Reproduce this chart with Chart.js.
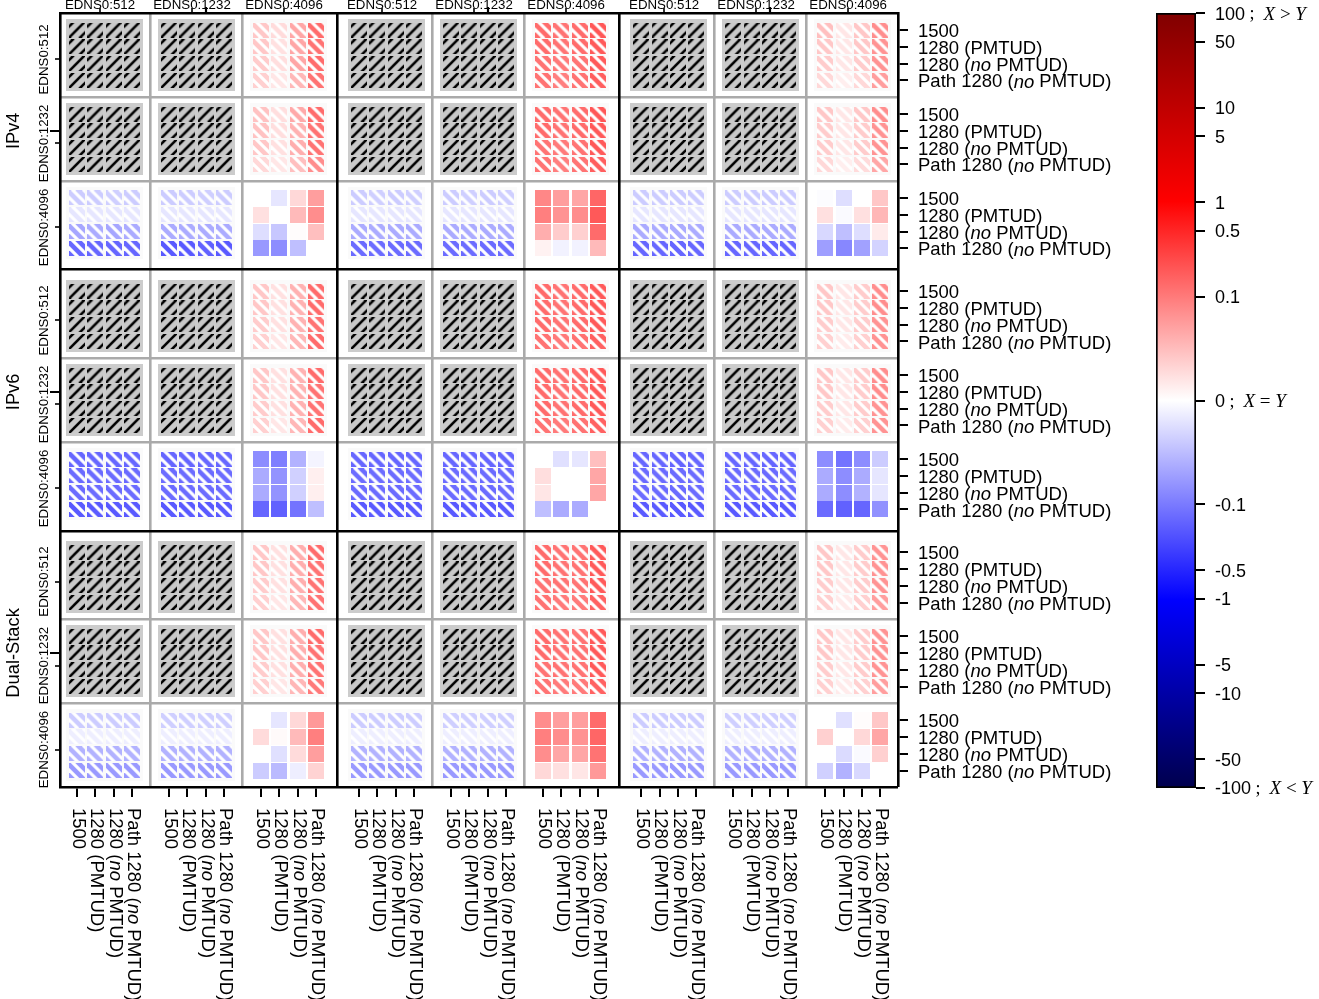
<!DOCTYPE html>
<html>
<head>
<meta charset="utf-8">
<script src="https://cdn.jsdelivr.net/npm/chart.js@4"></script>
<style>
  html, body { margin: 0; background: #fff; }
  canvas { position: absolute; top: 0; }
  #matrix { left: 0; }
  #cbar { left: 1100px; }
</style>
</head>
<body>
<canvas id="matrix" width="1319" height="999"></canvas>
<canvas id="cbar" width="219" height="999"></canvas>
<script>
// ================ Data ======================
const _ = null; // no value, drawn as the grey/black hatched cell

const mtuLabels = ['1500', '1280 (PMTUD)', '1280 (*no* PMTUD)', 'Path 1280 (*no* PMTUD)'];
const ednsLabels = ['EDNS0:512', 'EDNS0:1232', 'EDNS0:4096'];
const familyLabels = ['IPv4', 'IPv6', 'Dual-Stack'];
const cbarTicks = [100, 50, 10, 5, 1, 0.5, 0.1, 0, -0.1, -0.5, -1, -5, -10, -50, -100];
const cbarMath = { '100': ['X', ' > ', 'Y'], '0': ['X', ' = ', 'Y'], '-100': ['X', ' < ', 'Y'] };

const ipv4_left = [
  [_,_,_,_,_,_,_,_, .042,.027,.067,.133],
  [_,_,_,_,_,_,_,_, .042,.023,.067,.115],
  [_,_,_,_,_,_,_,_, .038,.025,.067,.133],
  [_,_,_,_,_,_,_,_, .035,.019,.054,.115],
  [_,_,_,_,_,_,_,_, .046,.025,.065,.133],
  [_,_,_,_,_,_,_,_, .046,.025,.058,.115],
  [_,_,_,_,_,_,_,_, .042,.023,.061,.115],
  [_,_,_,_,_,_,_,_, .029,.019,.048,.086],
  [-.038,-.038,-.036,-.038, -.038,-.038,-.036,-.038, 0,-.019,.029,.073],
  [-.019,-.019,-.019,-.019, -.019,-.019,-.019,-.019, .023,0,.052,.086],
  [-.067,-.063,-.067,-.063, -.063,-.063,-.063,-.063, -.025,-.042,.002,.048],
  [-.147,-.147,-.147,-.147, -.186,-.186,-.162,-.186, -.077,-.086,-.048,0]
];
const ipv4_mid = [
  [_,_,_,_,_,_,_,_, .133,.115,.133,.2],
  [_,_,_,_,_,_,_,_, .133,.115,.133,.186],
  [_,_,_,_,_,_,_,_, .115,.1,.115,.186],
  [_,_,_,_,_,_,_,_, .115,.096,.115,.17],
  [_,_,_,_,_,_,_,_, .133,.115,.133,.2],
  [_,_,_,_,_,_,_,_, .133,.115,.133,.186],
  [_,_,_,_,_,_,_,_, .115,.1,.115,.186],
  [_,_,_,_,_,_,_,_, .115,.096,.115,.17],
  [-.038,-.036,-.038,-.036, -.038,-.036,-.038,-.036, .09,.073,.067,.147],
  [-.019,-.019,-.019,-.019, -.019,-.019,-.019,-.019, .096,.081,.086,.186],
  [-.063,-.063,-.063,-.063, -.063,-.063,-.063,-.063, .061,.038,.035,.133],
  [-.133,-.133,-.133,-.133, -.133,-.133,-.133,-.133, .01,-.01,-.01,.052]
];
const ipv4_right = [
  [_,_,_,_,_,_,_,_, .048,.019,.042,.086],
  [_,_,_,_,_,_,_,_, .042,.019,.042,.081],
  [_,_,_,_,_,_,_,_, .038,.019,.038,.081],
  [_,_,_,_,_,_,_,_, .029,.013,.029,.073],
  [_,_,_,_,_,_,_,_, .042,.019,.042,.086],
  [_,_,_,_,_,_,_,_, .038,.019,.038,.081],
  [_,_,_,_,_,_,_,_, .038,.019,.038,.081],
  [_,_,_,_,_,_,_,_, .029,.013,.027,.067],
  [-.038,-.038,-.038,-.038, -.038,-.038,-.038,-.038, -.002,-.025,0,.042],
  [-.019,-.019,-.019,-.019, -.019,-.019,-.019,-.019, .023,-.004,.023,.054],
  [-.063,-.063,-.063,-.063, -.063,-.063,-.063,-.063, -.029,-.048,-.025,.015],
  [-.147,-.147,-.147,-.147, -.147,-.147,-.147,-.147, -.073,-.09,-.071,-.033]
];
const ipv6_left = [
  [_,_,_,_,_,_,_,_, .042,.023,.058,.133],
  [_,_,_,_,_,_,_,_, .042,.023,.058,.133],
  [_,_,_,_,_,_,_,_, .038,.023,.058,.115],
  [_,_,_,_,_,_,_,_, .035,.019,.054,.133],
  [_,_,_,_,_,_,_,_, .042,.023,.058,.133],
  [_,_,_,_,_,_,_,_, .042,.023,.058,.115],
  [_,_,_,_,_,_,_,_, .038,.023,.058,.115],
  [_,_,_,_,_,_,_,_, .035,.019,.054,.133],
  [-.147,-.147,-.147,-.147, -.147,-.147,-.147,-.147, -.086,-.096,-.058,-.008],
  [-.133,-.133,-.133,-.133, -.133,-.133,-.133,-.133, -.063,-.081,-.035,.012],
  [-.133,-.133,-.133,-.133, -.133,-.133,-.133,-.133, -.063,-.081,-.035,.012],
  [-.186,-.186,-.186,-.186, -.186,-.186,-.186,-.186, -.147,-.162,-.115,-.048]
];
const ipv6_mid = [
  [_,_,_,_,_,_,_,_, .133,.115,.133,.186],
  [_,_,_,_,_,_,_,_, .133,.115,.133,.186],
  [_,_,_,_,_,_,_,_, .133,.115,.133,.186],
  [_,_,_,_,_,_,_,_, .115,.1,.115,.162],
  [_,_,_,_,_,_,_,_, .133,.115,.133,.186],
  [_,_,_,_,_,_,_,_, .133,.115,.133,.186],
  [_,_,_,_,_,_,_,_, .133,.115,.133,.186],
  [_,_,_,_,_,_,_,_, .115,.1,.115,.162],
  [-.147,-.147,-.147,-.147, -.147,-.147,-.147,-.147, 0,-.023,-.019,.048],
  [-.133,-.133,-.133,-.133, -.133,-.133,-.133,-.133, .025,0,0,.067],
  [-.133,-.133,-.133,-.133, -.133,-.133,-.133,-.133, .019,0,0,.067],
  [-.186,-.186,-.186,-.186, -.186,-.186,-.186,-.186, -.048,-.063,-.063,0]
];
const ipv6_right = [
  [_,_,_,_,_,_,_,_, .042,.019,.038,.086],
  [_,_,_,_,_,_,_,_, .042,.019,.038,.086],
  [_,_,_,_,_,_,_,_, .038,.019,.038,.081],
  [_,_,_,_,_,_,_,_, .035,.015,.035,.081],
  [_,_,_,_,_,_,_,_, .042,.019,.038,.086],
  [_,_,_,_,_,_,_,_, .042,.019,.038,.086],
  [_,_,_,_,_,_,_,_, .038,.019,.038,.081],
  [_,_,_,_,_,_,_,_, .035,.015,.035,.081],
  [-.147,-.147,-.147,-.147, -.147,-.147,-.147,-.147, -.086,-.115,-.086,-.038],
  [-.133,-.133,-.133,-.133, -.133,-.133,-.133,-.133, -.063,-.086,-.063,-.019],
  [-.133,-.133,-.133,-.133, -.133,-.133,-.133,-.133, -.063,-.086,-.058,-.019],
  [-.186,-.186,-.186,-.186, -.186,-.186,-.186,-.186, -.133,-.162,-.147,-.083]
];
const dual_left = [
  [_,_,_,_,_,_,_,_, .042,.023,.061,.133],
  [_,_,_,_,_,_,_,_, .042,.023,.061,.115],
  [_,_,_,_,_,_,_,_, .038,.023,.061,.115],
  [_,_,_,_,_,_,_,_, .035,.019,.054,.115],
  [_,_,_,_,_,_,_,_, .042,.023,.061,.133],
  [_,_,_,_,_,_,_,_, .042,.023,.061,.115],
  [_,_,_,_,_,_,_,_, .038,.023,.061,.115],
  [_,_,_,_,_,_,_,_, .035,.019,.054,.1],
  [-.038,-.038,-.038,-.038, -.036,-.036,-.036,-.036, 0,-.019,.029,.077],
  [-.013,-.013,-.013,-.013, -.013,-.013,-.013,-.013, .027,.004,.052,.096],
  [-.058,-.058,-.058,-.058, -.058,-.058,-.058,-.058, 0,-.023,.027,.073],
  [-.077,-.077,-.077,-.077, -.077,-.077,-.077,-.077, -.038,-.052,-.013,.033]
];
const dual_mid = [
  [_,_,_,_,_,_,_,_, .133,.115,.115,.186],
  [_,_,_,_,_,_,_,_, .133,.115,.115,.186],
  [_,_,_,_,_,_,_,_, .115,.115,.115,.186],
  [_,_,_,_,_,_,_,_, .115,.1,.1,.162],
  [_,_,_,_,_,_,_,_, .133,.115,.115,.186],
  [_,_,_,_,_,_,_,_, .133,.115,.115,.186],
  [_,_,_,_,_,_,_,_, .115,.115,.115,.186],
  [_,_,_,_,_,_,_,_, .115,.1,.1,.162],
  [-.038,-.038,-.038,-.038, -.036,-.036,-.036,-.036, .086,.073,.073,.133],
  [-.013,-.013,-.013,-.013, -.013,-.013,-.013,-.013, .096,.086,.081,.147],
  [-.058,-.058,-.058,-.058, -.058,-.058,-.058,-.058, .086,.067,.067,.115],
  [-.077,-.077,-.077,-.077, -.077,-.077,-.077,-.077, .029,.023,.019,.077]
];
const dual_right = [
  [_,_,_,_,_,_,_,_, .042,.019,.038,.081],
  [_,_,_,_,_,_,_,_, .042,.019,.038,.081],
  [_,_,_,_,_,_,_,_, .038,.019,.038,.081],
  [_,_,_,_,_,_,_,_, .035,.015,.035,.073],
  [_,_,_,_,_,_,_,_, .042,.019,.038,.081],
  [_,_,_,_,_,_,_,_, .042,.019,.038,.081],
  [_,_,_,_,_,_,_,_, .038,.019,.038,.081],
  [_,_,_,_,_,_,_,_, .035,.015,.035,.073],
  [-.038,-.038,-.038,-.038, -.036,-.036,-.036,-.036, 0,-.023,.002,.042],
  [-.013,-.013,-.013,-.013, -.013,-.013,-.013,-.013, .035,0,.029,.067],
  [-.058,-.058,-.058,-.058, -.058,-.058,-.058,-.058, 0,-.027,-.004,.035],
  [-.077,-.077,-.077,-.077, -.077,-.077,-.077,-.077, -.035,-.058,-.029,0]
];
const blocks = [
  [ipv4_left, ipv4_mid, ipv4_right],
  [ipv6_left, ipv6_mid, ipv6_right],
  [dual_left, dual_mid, dual_right]
];

// ================ Colour scale (symlog, seismic) ======================
const LIN = 0.268;     // colourbar fraction of value 0.1
const DECADE = 0.2439; // colourbar fraction of one decade
const PURE = 0.514;    // fraction where the colour is pure red/blue

function norm(v) {
  const a = Math.abs(v);
  const n = a <= 0.1 ? a / 0.1 * LIN : LIN + Math.log10(a / 0.1) * DECADE;
  return v < 0 ? -n : n;
}

function shade(n) {
  const a = Math.abs(n);
  let hi, lo;
  if (a <= PURE) { hi = 255; lo = Math.round(255 * (1 - a / PURE)); }
  else { hi = Math.round(255 - (255 - (n < 0 ? 77 : 128)) * (a - PURE) / (1 - PURE)); lo = 0; }
  return n >= 0 ? `rgb(${hi},${lo},${lo})` : `rgb(${lo},${lo},${hi})`;
}

// ================ Tiles used as point styles ======================
const tileCache = {};

function makeTile(w, h, key, paint) {
  if (tileCache[key]) return tileCache[key];
  const c = document.createElement('canvas');
  c.width = w; c.height = h;
  paint(c.getContext('2d'));
  return tileCache[key] = c;
}

function stripes(g, color, width, sums, dir) {
  g.strokeStyle = color; g.lineWidth = width;
  sums.forEach(s => {
    g.beginPath();
    if (dir > 0) { g.moveTo(s + 4, -4); g.lineTo(s - 20, 20); } // "/"
    else { g.moveTo(s - 4, -4); g.lineTo(s + 20, 20); }         // "\"
    g.stroke();
  });
}

function cellTile(v, hatched) {
  if (v === null) {
    return makeTile(16, 15, 'na', g => {
      g.fillStyle = '#c9c9c9'; g.fillRect(0, 0, 16, 15);
      stripes(g, '#000', 2.6, [4, 15, 26], 1);
    });
  }
  const col = shade(norm(v));
  const h = hatched ? 15 : 16;
  return makeTile(16, h, col + hatched, g => {
    g.fillStyle = col; g.fillRect(0, 0, 16, h);
    if (hatched) stripes(g, '#fff', 3.2, [-18, -7, 4, 15], -1);
  });
}

function panelTile(color) {
  return makeTile(77, 72, color, g => { g.fillStyle = color; g.fillRect(0, 0, 77, 72); });
}

// ================ Layout in data units (one unit = one cell) ======================
const GAP_X = 0.33, GAP_Y = 0.54; // extra space between the outer groups
const X_MIN = -0.924, X_MAX = 44.62, Y_MIN = -1.012, Y_MAX = 45.06;
const posX = (o, p, c) => o * (15 + GAP_X) + p * 5 + c;
const posY = (o, p, c) => o * (15 + GAP_Y) + p * 5 + c;

const cells = [], panels = [];
blocks.forEach((row, R) => row.forEach((block, C) => {
  block.forEach((vals, r) => vals.forEach((v, c) => {
    const pr = Math.floor(r / 4), pc = Math.floor(c / 4);
    cells.push({
      x: posX(C, pc, c % 4), y: posY(R, pr, r % 4), v: v,
      tile: cellTile(v, pr < 2 || pc < 2)
    });
  }));
  for (let pr = 0; pr < 3; pr++) for (let pc = 0; pc < 3; pc++) {
    if (pr === 2 && pc === 2) continue;
    panels.push({
      x: posX(C, pc, 1.5), y: posY(R, pr, 1.5),
      tile: panelTile(pr < 2 && pc < 2 ? '#cccccc' : '#fafafa')
    });
  }
}));

// tick and line positions
const range3 = [0, 1, 2];
const cellTicksX = [], cellTicksY = [];
const panelTicksX = [], panelTicksY = [], groupTicksX = [], groupTicksY = [];
const greyX = [], greyY = [], blackX = [], blackY = [];
range3.forEach(o => {
  groupTicksX.push(posX(o, 1, 2));
  groupTicksY.push(posY(o, 1, 1));
  if (o > 0) {
    blackX.push((posX(o - 1, 2, 3) + posX(o, 0, 0)) / 2);
    blackY.push((posY(o - 1, 2, 3) + posY(o, 0, 0)) / 2);
  }
  range3.forEach(p => {
    panelTicksX.push(posX(o, p, 1.25));
    panelTicksY.push(posY(o, p, 1.75));
    if (p > 0) { greyX.push(posX(o, p, -1)); greyY.push(posY(o, p, -1)); }
    for (let c = 0; c < 4; c++) { cellTicksX.push(posX(o, p, c)); cellTicksY.push(posY(o, p, c)); }
  });
});

// ================ Axis helper ======================
function axis(position, size, weight, values, extra) {
  const horizontal = position === 'top' || position === 'bottom';
  return Object.assign({
    type: 'linear', position: position, weight: weight, bounds: 'data',
    min: horizontal ? X_MIN : Y_MIN, max: horizontal ? X_MAX : Y_MAX,
    reverse: !horizontal,
    ticks: { display: false, autoSkip: false },
    border: { display: false },
    afterBuildTicks: s => { s.ticks = values.map(v => ({ value: v })); },
    afterFit: s => { if (horizontal) s.height = size; else s.width = size; }
  }, extra);
}

const tickGrid = (len, w) => ({ drawOnChartArea: false, tickLength: len, tickColor: '#000', tickWidth: w || 2, lineWidth: 0 });
const lineGrid = (color, z) => ({ drawTicks: false, color: color, lineWidth: 2.6, z: z });
const frame = { display: true, color: '#000', width: 2.6, z: 1 };

// ================ Text ======================
const SANS = '"Liberation Sans", Arial, sans-serif';
const SERIF = '"Liberation Serif", "Times New Roman", serif';

// "*no*" parts are italic
function mtuRuns(label) {
  return label.split('*').map((t, i) => ({ t: t, font: (i % 2 ? 'italic ' : '') + '18.5px ' + SANS }));
}

function drawRuns(g, runs, x, y, angle) {
  g.save();
  g.translate(x, y);
  g.rotate(angle || 0);
  g.textAlign = 'left';
  g.textBaseline = 'middle';
  g.fillStyle = '#000';
  let at = 0;
  runs.forEach(r => {
    g.font = r.font;
    g.fillText(r.t, at, 0);
    at += g.measureText(r.t).width;
  });
  g.restore();
}

function drawCentered(g, text, font, x, y, angle) {
  g.save();
  g.translate(x, y);
  g.rotate(angle || 0);
  g.textAlign = 'center';
  g.textBaseline = 'middle';
  g.fillStyle = '#000';
  g.font = font;
  g.fillText(text, 0, 0);
  g.restore();
}

const labelPlugin = {
  id: 'labels',
  afterDraw(chart) {
    const g = chart.ctx;
    const { x, y } = chart.scales;
    cellTicksY.forEach((v, i) => drawRuns(g, mtuRuns(mtuLabels[i % 4]), 918, y.getPixelForValue(v) + 2));
    cellTicksX.forEach((v, i) => drawRuns(g, mtuRuns(mtuLabels[i % 4]), x.getPixelForValue(v) + 1, 808, Math.PI / 2));
    panelTicksX.forEach((v, i) => drawCentered(g, ednsLabels[i % 3], '13.3px ' + SANS, x.getPixelForValue(v), 5));
    panelTicksY.forEach((v, i) => drawCentered(g, ednsLabels[i % 3], '13.3px ' + SANS, 44.5, y.getPixelForValue(v), -Math.PI / 2));
    groupTicksY.forEach((v, i) => drawCentered(g, familyLabels[i], '18.3px ' + SANS, 14, y.getPixelForValue(v), -Math.PI / 2));
  }
};

// ================ Matrix chart ======================
new Chart(document.getElementById('matrix'), {
  type: 'scatter',
  data: {
    datasets: [
      { data: cells, order: 1, clip: false, xAxisID: 'x', yAxisID: 'y',
        pointStyle: c => c.raw.tile, pointRadius: 8, pointBorderWidth: 0 },
      { data: panels, order: 2, clip: false, xAxisID: 'x', yAxisID: 'y',
        pointStyle: c => c.raw.tile, pointRadius: 8, pointBorderWidth: 0 }
    ]
  },
  options: {
    responsive: false,
    animation: false,
    events: [],
    layout: { padding: 0, autoPadding: false },
    plugins: { legend: { display: false }, tooltip: { enabled: false } },
    scales: {
      x: axis('bottom', 212, 1, cellTicksX, { grid: tickGrid(10), border: frame }),
      y: axis('right', 421, 1, cellTicksY, { grid: tickGrid(10), border: frame }),
      top: axis('top', 13, 1, panelTicksX, { grid: tickGrid(5, 1.6), border: frame }),
      topGroup: axis('top', 0, -1, groupTicksX, { grid: tickGrid(6, 2.2) }),
      left: axis('left', 60, 1, panelTicksY, { grid: tickGrid(5, 1.6), border: frame }),
      leftGroup: axis('left', 0, -1, groupTicksY, { grid: tickGrid(10, 2) }),
      greyX: axis('bottom', 0, -2, greyX, { grid: lineGrid('#aaaaaa', -2) }),
      greyY: axis('left', 0, -2, greyY, { grid: lineGrid('#aaaaaa', -2) }),
      blackX: axis('bottom', 0, -3, blackX, { grid: lineGrid('#000', -1) }),
      blackY: axis('left', 0, -3, blackY, { grid: lineGrid('#000', -1) })
    }
  },
  plugins: [labelPlugin]
});

// ================ Colour bar ======================
const cbarLabelPlugin = {
  id: 'cbarLabels',
  afterDraw(chart) {
    const g = chart.ctx, y = chart.scales.y;
    cbarTicks.forEach(v => {
      const runs = [{ t: String(v), font: '18px ' + SANS }];
      const math = cbarMath[String(v)];
      if (math) {
        runs.push({ t: ' ;  ', font: '18px ' + SERIF });
        runs.push({ t: math[0], font: 'italic 19px ' + SERIF });
        runs.push({ t: math[1], font: '19px ' + SERIF });
        runs.push({ t: math[2], font: 'italic 19px ' + SERIF });
      }
      drawRuns(g, runs, 115, y.getPixelForValue(norm(v)) + 1.5);
    });
  }
};

new Chart(document.getElementById('cbar'), {
  type: 'bar',
  data: {
    labels: [''],
    datasets: [{
      data: [[-1, 1]],
      barPercentage: 1,
      categoryPercentage: 1,
      borderColor: '#000',
      borderWidth: 2,
      borderSkipped: false,
      backgroundColor(c) {
        const { chart } = c;
        if (!chart.chartArea) return '#fff';
        const y = chart.scales.y;
        const grad = chart.ctx.createLinearGradient(0, y.getPixelForValue(1), 0, y.getPixelForValue(-1));
        [1, PURE, 0, -PURE, -1].forEach(n => grad.addColorStop((1 - n) / 2, shade(n)));
        return grad;
      }
    }]
  },
  options: {
    responsive: false,
    animation: false,
    events: [],
    layout: { padding: { left: 56, top: 13, bottom: 211 }, autoPadding: false },
    plugins: { legend: { display: false }, tooltip: { enabled: false } },
    scales: {
      x: { display: false },
      y: {
        type: 'linear', position: 'right', min: -1, max: 1, bounds: 'data',
        ticks: { display: false, autoSkip: false },
        border: { display: false },
        grid: { drawOnChartArea: false, tickLength: 9, tickColor: '#000', tickWidth: 2, lineWidth: 0 },
        afterBuildTicks: s => { s.ticks = cbarTicks.map(v => ({ value: norm(v) })); },
        afterFit: s => { s.width = 123; }
      }
    }
  },
  plugins: [cbarLabelPlugin]
});
</script>
</body>
</html>
